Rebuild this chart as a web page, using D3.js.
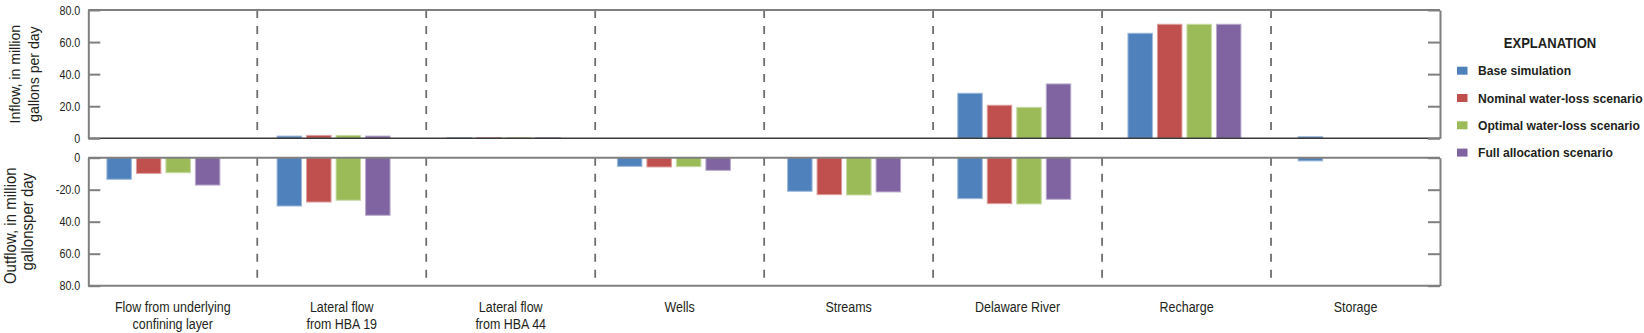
<!DOCTYPE html>
<html><head><meta charset="utf-8">
<script src="https://cdn.jsdelivr.net/npm/d3@7"></script>
<style>
html,body{margin:0;padding:0;background:#fff;}
svg{display:block;}
text{font-family:"Liberation Sans",Arial,sans-serif;fill:#231f20;}
</style></head>
<body>
<svg id="chart" width="1644" height="333"></svg>
<script>
// ---- data ----
const categories = ["Flow from underlying confining layer","Lateral flow from HBA 19","Lateral flow from HBA 44","Wells","Streams","Delaware River","Recharge","Storage"];
const categoryLines = [["Flow from underlying","confining layer"],["Lateral flow","from HBA 19"],["Lateral flow","from HBA 44"],["Wells"],["Streams"],["Delaware River"],["Recharge"],["Storage"]];
const seriesNames = ["Base simulation","Nominal water-loss scenario","Optimal water-loss scenario","Full allocation scenario"];
const seriesColors = ["#4F81BD","#C0504D","#9BBB59","#8064A2"];
// inflow, million gallons per day
const inflowBase    = [0, 1.4, 0.5, 0, 0, 28.1, 65.5, 1.0];
const inflowNominal = [0, 1.8, 0.5, 0, 0, 20.6, 71.1, 0];
const inflowOptimal = [0, 1.8, 0.5, 0, 0, 19.3, 71.1, 0];
const inflowFull    = [0, 1.4, 0.5, 0, 0, 33.9, 71.1, 0];
// outflow, million gallons per day
const outflowBase    = [13.5, 30.2, 0, 5.4, 21.0, 25.6, 0, 2.0];
const outflowNominal = [9.8, 27.7, 0, 5.8, 23.1, 28.7, 0, 0];
const outflowOptimal = [9.4, 26.6, 0, 5.6, 23.3, 28.9, 0, 0];
const outflowFull    = [17.1, 36.0, 0, 7.9, 21.4, 26.0, 0, 0];
const inTickValues = [0, 20, 40, 60, 80];
const inTickLabels = ["0", "20.0", "40.0", "60.0", "80.0"];
const outTickValues = [0, 20, 40, 60, 80];
const outTickLabels = ["0", "-20.0", "40.0", "60.0", "80.0"];
const inTitle = ["Inflow, in million", "gallons per day"];
const outTitle = ["Outflow, in million", "gallonsper day"];
const legendTitle = "EXPLANATION";

const inflow = [inflowBase, inflowNominal, inflowOptimal, inflowFull];
const outflow = [outflowBase, outflowNominal, outflowOptimal, outflowFull];

// ---- layout ----
const svg = d3.select("#chart");
const L = 88.3, R = 1440;
const xSep = d3.scaleBand().domain(categories).range([L, R]);
const xBar = d3.scaleBand().domain(categories).range([78.3, 1439.7]);
const groupW = 113;
const xSub = d3.scaleBand().domain(seriesNames).range([0, groupW]).paddingInner(5/29.5);
const gOff = (xBar.bandwidth() - groupW) / 2;
const yIn = d3.scaleLinear().domain([0, 80]).range([138.3, 10]);
const yOut = d3.scaleLinear().domain([0, 80]).range([157.7, 285.7]);
const axisGray = "#7f7f7f";

function ctext(parent, x, y, str, fs, cond, anchor, weight, rot) {
  return parent.append("text")
    .attr("transform", `translate(${x},${y})${rot ? " rotate(" + rot + ")" : ""} scale(${cond},1)`)
    .attr("text-anchor", anchor || "start").attr("font-size", fs)
    .attr("font-weight", weight || "normal").text(str);
}

// separators
const sepG = svg.append("g");
categories.slice(1).forEach(c => {
  const x = xSep(c);
  [[yIn(80), yIn(0)], [yOut(0), yOut(80)]].forEach(([a, b]) => {
    sepG.append("line").attr("x1", x).attr("x2", x).attr("y1", a).attr("y2", b)
      .attr("stroke", "#6e6e6e").attr("stroke-width", 1.8).attr("stroke-dasharray", "8,8");
  });
});

// bars
const barG = svg.append("g");
seriesNames.forEach((s, si) => {
  const col = seriesColors[si];
  const stroke = d3.interpolateRgb(col, "#ffffff")(0.45);
  categories.forEach((c, ci) => {
    const x = xBar(c) + gOff + xSub(s);
    const vi = inflow[si][ci];
    if (vi > 0) {
      barG.append("rect").attr("x", x).attr("width", xSub.bandwidth())
        .attr("y", yIn(vi)).attr("height", yIn(0) - yIn(vi))
        .attr("fill", col).attr("stroke", stroke).attr("stroke-width", 1);
    }
    const vo = outflow[si][ci];
    if (vo > 0) {
      barG.append("rect").attr("x", x).attr("width", xSub.bandwidth())
        .attr("y", yOut(0)).attr("height", yOut(vo) - yOut(0))
        .attr("fill", col).attr("stroke", stroke).attr("stroke-width", 1);
    }
  });
});

// frames
const frame = svg.append("g");
function hline(y, color, w) {
  frame.append("line").attr("x1", L).attr("x2", R).attr("y1", y).attr("y2", y)
    .attr("stroke", color).attr("stroke-width", w);
}
hline(yIn(80), axisGray, 2);
hline(yOut(80), axisGray, 2);
hline(yOut(0), axisGray, 2);

const TICK_COND = 0.86;
function styleAxis(g) {
  g.selectAll("path.domain").attr("stroke", axisGray).attr("stroke-width", 2);
  g.selectAll(".tick line").attr("stroke", axisGray).attr("stroke-width", 2);
  g.selectAll(".tick text").attr("font-size", 12.5).attr("fill", "#231f20")
    .attr("transform", `scale(${TICK_COND},1)`).attr("x", -8 / TICK_COND);
}
const aInL = svg.append("g").attr("transform", `translate(${L},0)`)
  .call(d3.axisLeft(yIn).tickValues(inTickValues).tickSize(-12).tickSizeOuter(0).tickPadding(8)
    .tickFormat((d, i) => inTickLabels[i]));
styleAxis(aInL);
const aInR = svg.append("g").attr("transform", `translate(${R},0)`)
  .call(d3.axisRight(yIn).tickValues(inTickValues).tickSize(-12).tickSizeOuter(0).tickFormat(""));
styleAxis(aInR);
const aOutL = svg.append("g").attr("transform", `translate(${L},0)`)
  .call(d3.axisLeft(yOut).tickValues(outTickValues).tickSize(-12).tickSizeOuter(0).tickPadding(8)
    .tickFormat((d, i) => outTickLabels[i]));
styleAxis(aOutL);
const aOutR = svg.append("g").attr("transform", `translate(${R},0)`)
  .call(d3.axisRight(yOut).tickValues(outTickValues).tickSize(-12).tickSizeOuter(0).tickFormat(""));
styleAxis(aOutR);
// dark baseline of inflow panel
hline(yIn(0), "#3a3a3a", 1.5);

// category labels
const catG = svg.append("g");
categories.forEach((c, ci) => {
  const cx = xSep(c) + xSep.bandwidth() / 2;
  categoryLines[ci].forEach((ln, li) => ctext(catG, cx, 311.5 + li * 17, ln, 14, 0.89, "middle"));
});

// axis titles
const tG = svg.append("g");
const inMid = (yIn(0) + yIn(80)) / 2, outMid = (yOut(0) + yOut(80)) / 2;
ctext(tG, 19.5, inMid, inTitle[0], 15.5, 0.91, "middle", "normal", -90);
ctext(tG, 39, inMid, inTitle[1], 15.5, 0.91, "middle", "normal", -90);
ctext(tG, 15.5, outMid + 4, outTitle[0], 16.5, 0.91, "middle", "normal", -90);
ctext(tG, 32.5, outMid, outTitle[1], 16.5, 0.91, "middle", "normal", -90);

// legend
const lg = svg.append("g");
ctext(lg, 1550, 48, legendTitle, 14.5, 0.9, "middle", "bold");
seriesNames.forEach((s, i) => {
  const yc = 70.7 + i * 27.3;
  lg.append("rect").attr("x", 1457).attr("y", yc - 4).attr("width", 10.5).attr("height", 8).attr("fill", seriesColors[i]);
  ctext(lg, 1478, yc + 4.5, s, 13.5, 0.9, "start", "bold");
});
</script>
</body></html>
